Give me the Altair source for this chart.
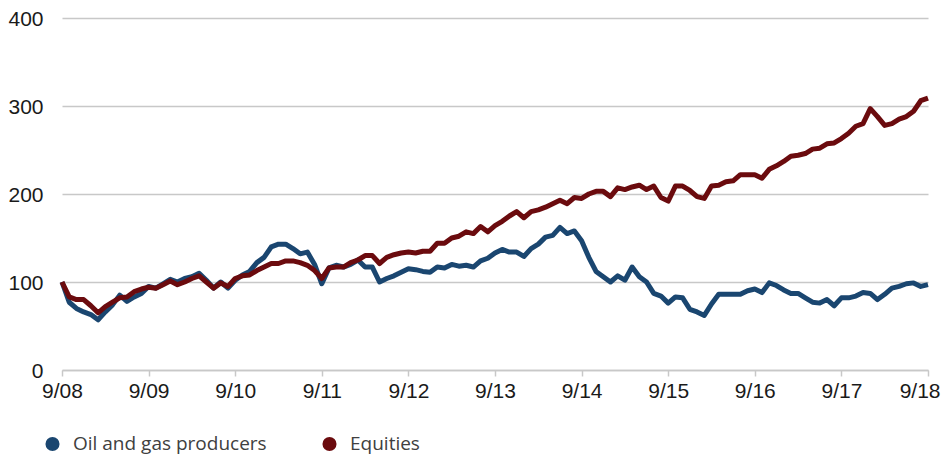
import altair as alt
import pandas as pd

oil_gas = [
    100, 77, 70, 66, 63, 57, 66, 74, 85, 78, 83, 87,
    95, 93, 98, 103, 100, 104, 106, 110, 102, 93, 100, 93,
    102, 108, 112, 122, 128, 140, 143, 143, 138, 132, 134, 120,
    98, 116, 119, 117, 120, 125, 117, 117, 100, 104, 107, 111,
    115, 114, 112, 111, 117, 116, 120, 118, 119, 117, 124, 127,
    133, 137, 134, 134, 129, 138, 143, 151, 153, 162, 155, 158,
    147, 128, 112, 106, 100, 107, 102, 117, 106, 100, 87, 84,
    76, 83, 82, 69, 66, 62, 75, 86, 86, 86, 86, 90,
    92, 88, 99, 96, 91, 87, 87, 82, 77, 76, 80, 73,
    82, 82, 84, 88, 87, 80, 86, 93, 95, 98, 99, 95,
    97,
]
equities = [
    100, 83, 80, 80, 73, 65, 72, 77, 82, 83, 89, 92,
    94, 93, 97, 101, 97, 100, 104, 107, 100, 93, 99, 95,
    104, 107, 108, 113, 117, 121, 121, 124, 124, 122, 119, 113,
    104, 116, 117, 117, 122, 125, 130, 130, 121, 128, 131, 133,
    134, 133, 135, 135, 144, 144, 150, 152, 157, 155, 163, 157,
    164, 169, 175, 180, 173, 180, 182, 185, 189, 193, 189, 196,
    195, 200, 203, 203, 197, 207, 205, 208, 210, 205, 209, 196,
    192, 209, 209, 204, 197, 195, 209, 210, 214, 215, 222, 222,
    222, 218, 228, 232, 237, 243, 244, 246, 251, 252, 257, 258,
    263, 269, 277, 280, 297, 288, 278, 280, 285, 288, 294, 306,
    309,
]
tick_labels = ["9/08", "9/09", "9/10", "9/11", "9/12", "9/13",
               "9/14", "9/15", "9/16", "9/17", "9/18"]
series_names = ["Oil and gas producers", "Equities"]
series_colors = ["#1a4670", "#6b0b0e"]

rows = []
for i, v in enumerate(oil_gas):
    rows.append({"month": i, "value": v, "series": series_names[0], "order": 0})
for i, v in enumerate(equities):
    rows.append({"month": i, "value": v, "series": series_names[1], "order": 1})
df = pd.DataFrame(rows)

label_array = "[" + ",".join("'" + t + "'" for t in tick_labels) + "]"
tick_values = [12 * k for k in range(len(tick_labels))]
last_tick = tick_values[-1]

chart = alt.Chart(df).mark_line(strokeWidth=5, strokeJoin="round").encode(
    x=alt.X("month:Q",
            scale=alt.Scale(domain=[0, 120], nice=False, zero=False),
            axis=alt.Axis(values=tick_values, labelExpr=label_array + "[round(datum.value/12)]",
                          title=None, grid=False, domain=True, domainColor="#c8c8c8",
                          domainWidth=1.5, ticks=True, tickColor="#c8c8c8", tickWidth=1.5,
                          tickSize=6, labelPadding=4, labelFont="Liberation Sans",
                          labelFontSize=21, labelColor="#1a1a1a", labelFlush=False,
                          labelAlign={"condition": {"test": f"datum.value == {last_tick}", "value": "right"},
                                      "value": "center"},
                          labelOffset={"condition": {"test": f"datum.value == {last_tick}", "value": 12},
                                       "value": 0})),
    y=alt.Y("value:Q",
            scale=alt.Scale(domain=[0, 400], nice=False),
            axis=alt.Axis(values=[0, 100, 200, 300, 400], title=None, domain=False,
                          ticks=False, tickSize=0, labelPadding=19, labelOffset=1, grid=True,
                          gridColor="#c8c8c8", gridWidth=1.5,
                          labelFont="Liberation Sans", labelFontSize=21,
                          labelColor="#1a1a1a")),
    color=alt.Color("series:N",
                    scale=alt.Scale(domain=series_names, range=series_colors),
                    legend=alt.Legend(title=None, orient="none", legendX=-19, legendY=416,
                                      direction="horizontal", columns=2, columnPadding=44,
                                      symbolType="circle", symbolSize=50,
                                      symbolStrokeWidth=7, labelOffset=11,
                                      labelLimit=0, padding=0,
                                      labelFont="Open Sans", labelFontSize=19,
                                      labelColor="#404040")),
    order=alt.Order("order:Q"),
).properties(
    width=866,
    height=352,
    autosize=alt.AutoSizeParams(type="none"),
    padding={"left": 54, "top": 10, "right": 13, "bottom": 85},
).configure_view(stroke=None)

chart.save("out.html", embed_options={"renderer": "svg", "actions": False})
